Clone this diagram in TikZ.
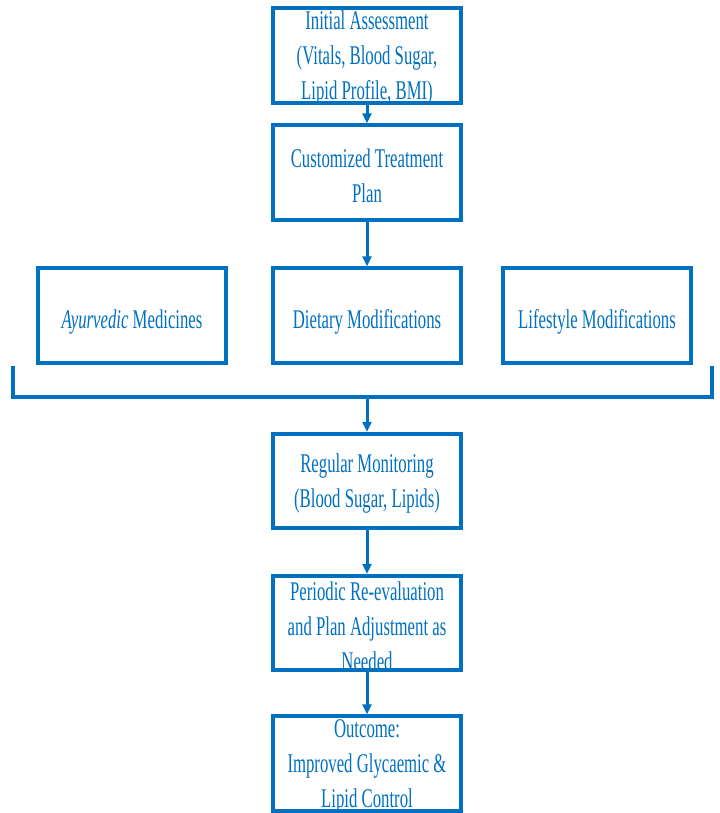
\documentclass[tikz,border=0pt]{standalone}
\usepackage{fontspec}
\usepackage{xcolor}
\usetikzlibrary{arrows.meta, positioning}
\newfontfamily\flowfont[FakeStretch=0.62]{Liberation Serif}
\definecolor{flowblue}{RGB}{0,112,192}

\begin{document}
\begin{tikzpicture}[x=0.025cm, y=-0.025cm,
		box/.style={draw=flowblue, line width=0.1cm, minimum width=4.7cm, minimum height=2.35cm, inner sep=0pt},
		txt/.style={text=flowblue, font={\flowfont\fontsize{19.2}{24.9}\selectfont}, align=center, inner sep=0pt, yshift=-0.07cm},
		conn/.style={draw=flowblue, line width=0.075cm, -{Triangle[length=0.25cm, width=0.22cm]}}]
		\useasboundingbox (0,0) rectangle (719,813);
		\node [box, label={[txt]center:{Initial Assessment\\(Vitals, Blood Sugar,\\Lipid Profile, BMI)}}] (init) at (367,55.5) {};
		\node [box, label={[txt]center:{Customized Treatment\\Plan}}] (custom) at (367,172.5) {};
		\node [box, label={[txt, yshift=-0.09cm]center:{\textit{Ayurvedic} Medicines}}] (ayur) at (132,315.5) {};
		\node [box, label={[txt, yshift=-0.09cm]center:{Dietary Modifications}}] (diet) at (367,315.5) {};
		\node [box, label={[txt, yshift=-0.09cm]center:{Lifestyle Modifications}}] (life) at (597,315.5) {};
		\node [box, label={[txt]center:{Regular Monitoring\\(Blood Sugar, Lipids)}}] (regular) at (367,481) {};
		\node [box, label={[txt]center:{Periodic Re-evaluation\\and Plan Adjustment as\\Needed}}] (periodic) at (367,623) {};
		\node [box, label={[txt]center:{Outcome:\\Improved Glycaemic \&\\Lipid Control}}] (outcome) at (367,763.5) {};
		\coordinate (brL) at (13,366);
		\coordinate (brLb) at (13,397);
		\coordinate (brRb) at (712,397);
		\coordinate (brR) at (712,366);
		\coordinate (brM) at (367,397);
		\draw [conn] (init) -- (custom);
		\draw [conn] (custom) -- (diet);
		\draw [flowblue, line width=0.1cm] (brL) -- (brLb) -- (brRb) -- (brR);
		\draw [conn] (brM) -- (regular);
		\draw [conn] (regular) -- (periodic);
		\draw [conn] (periodic) -- (outcome);
	\end{tikzpicture}
\end{document}
